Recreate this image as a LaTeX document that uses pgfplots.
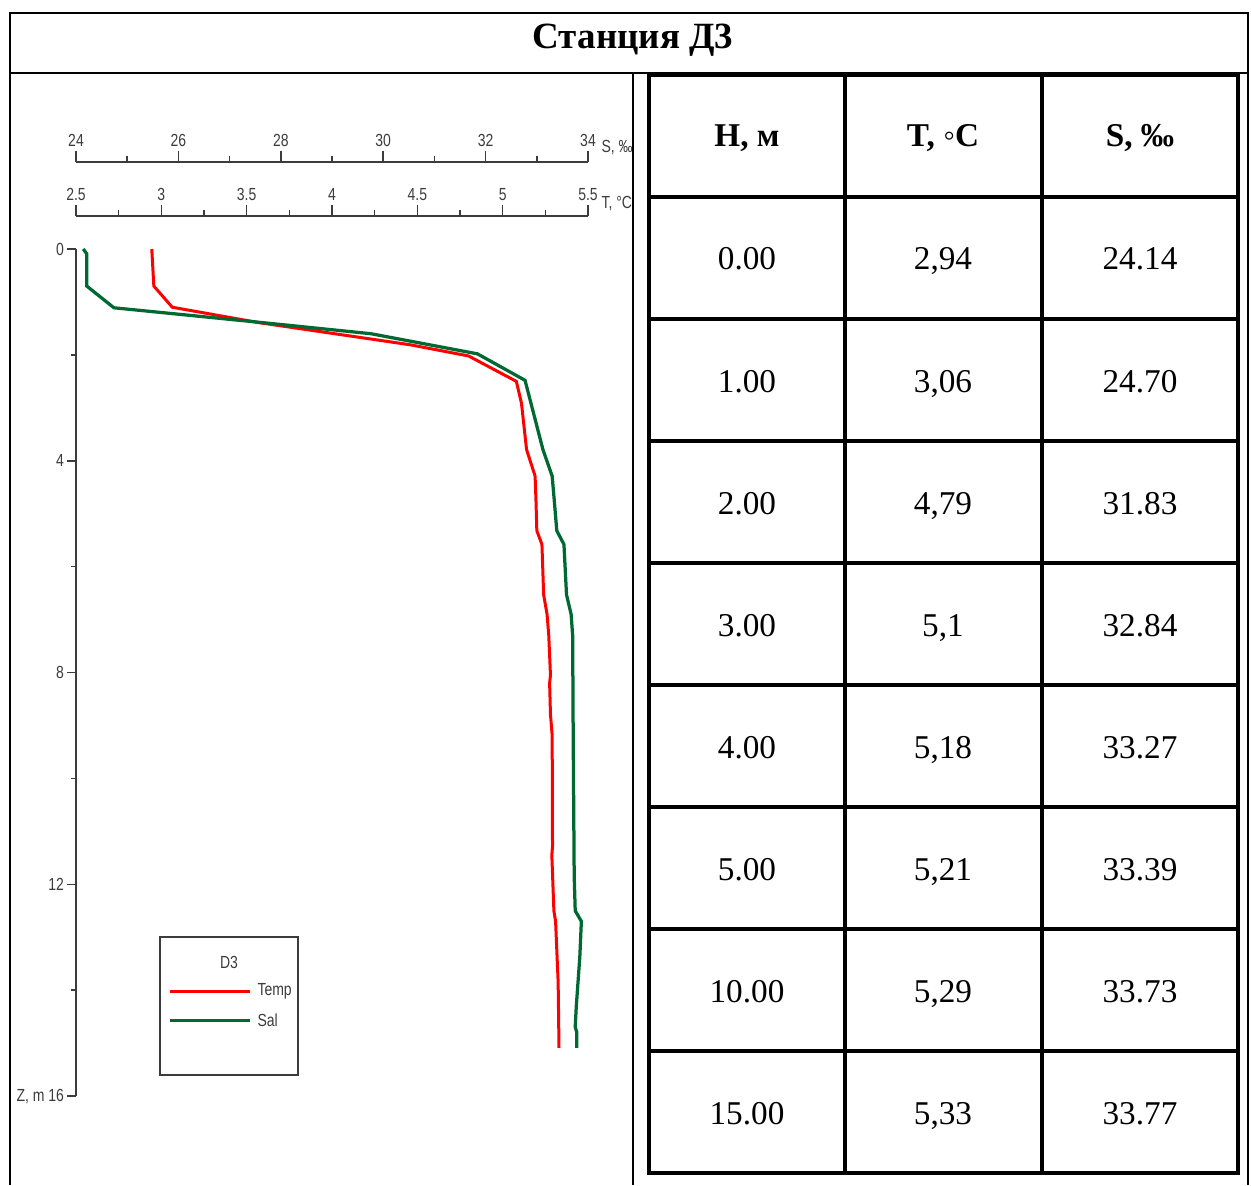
\documentclass[border=0pt]{standalone}
\usepackage{pgfplots}
\pgfplotsset{compat=1.18}
\usepackage{pgfplotstable}
\usepackage{fontspec}
\setmainfont{Liberation Serif}
\newfontfamily\chartfont[FakeStretch=0.8]{Liberation Sans}

\definecolor{salgreen}{RGB}{0,105,50}
\definecolor{axgray}{RGB}{60,60,60}

% depth (m) vs temperature
\pgfplotstableread{
d T
0.00 2.944
0.70 2.956
1.10 3.064
1.39 3.57
1.81 4.46
2.02 4.80
2.50 5.08
2.91 5.11
3.79 5.14
4.29 5.19
4.74 5.195
5.32 5.20
5.58 5.23
6.53 5.24
6.90 5.26
7.30 5.27
8.05 5.28
8.20 5.275
8.79 5.28
9.19 5.29
11.28 5.292
11.45 5.288
12.50 5.30
12.70 5.31
13.85 5.325
15.09 5.33
}\tempdata

% depth (m) vs salinity
\pgfplotstableread{
d S
0.00 24.14
0.09 24.21
0.70 24.21
1.11 24.74
1.39 27.64
1.60 29.76
1.98 31.84
2.48 32.77
3.79 33.12
4.29 33.30
4.74 33.34
5.32 33.39
5.58 33.53
6.53 33.58
6.90 33.67
7.30 33.70
9.10 33.71
11.83 33.73
12.50 33.75
12.70 33.87
13.37 33.84
14.32 33.77
14.70 33.75
14.79 33.78
15.09 33.78
}\saldata

\tikzset{cfont/.style={font=\chartfont\fontsize{7}{8}\selectfont, text=axgray}}
\pgfplotsset{
  prof/.style={
    scale only axis, width=204.8pt, height=338.8pt,
    at={(30.4pt,-99.6pt)}, anchor=north west,
    ymin=0, ymax=16, y dir=reverse, clip=false,
  },
  scalebar/.style={
    scale only axis, width=204.8pt, height=10pt, anchor=north west,
    ymin=0, ymax=1, axis x line*=top, axis y line=none,
    tick align=outside, major tick length=4.4pt, minor tick length=2.4pt,
    axis line style={axgray, line width=0.6pt},
    tick style={axgray, line width=0.6pt},
    /pgf/number format/assume math mode=true,
    ticklabel style={cfont, inner sep=1.5pt},
  },
}

\begin{document}
\begin{tikzpicture}

% temperature + depth axis
\begin{axis}[prof, xmin=2.5, xmax=5.5,
  axis x line=none, axis y line*=left,
  ytick={0,4,8,12,16}, yticklabels={0,4,8,12,{Z, m 16}},
  minor ytick={2,6,10,14},
  tick align=outside, major tick length=3.6pt, minor tick length=2pt,
  axis line style={axgray, line width=0.6pt},
  tick style={axgray, line width=0.6pt},
  ticklabel style={cfont, inner sep=1pt},
]
\addplot[red, line width=1.2pt] table[x=T, y=d] {\tempdata};
\end{axis}

% salinity
\begin{axis}[prof, xmin=24, xmax=34, hide axis]
\addplot[salgreen, line width=1.3pt] table[x=S, y=d] {\saldata};
\end{axis}

% top scales
\begin{axis}[scalebar, at={(30.4pt,-64.8pt)}, xmin=24, xmax=34,
  xtick={24,26,...,34}, minor xtick={25,27,...,33}]
\end{axis}
\begin{axis}[scalebar, at={(30.4pt,-86.4pt)}, xmin=2.5, xmax=5.5,
  xtick={2.5,3,...,5.5}, minor xtick={2.75,3.25,...,5.25}]
\end{axis}

\begin{scope}[x=0.4pt, y=-0.4pt]
  % scale names
  \node[anchor=west, inner sep=0pt, cfont] at (601,148) {S, ‰};
  \node[anchor=west, inner sep=0pt, cfont] at (601,204) {T, °C};

  % legend
  \draw[axgray, line width=0.5pt] (160,937) rectangle (298,1075);
  \node[cfont] at (229,962) {D3};
  \draw[red, line width=1.2pt] (170,991) -- (250,991);
  \node[anchor=west, inner sep=0pt, cfont] at (257,991) {Temp};
  \draw[salgreen, line width=1.2pt] (170,1020) -- (250,1020);
  \node[anchor=west, inner sep=0pt, cfont] at (257,1020) {Sal};

  % outer frame
  \draw[line width=1pt] (10,1185) -- (10,13) -- (1248,13) -- (1248,1185);
  \draw[line width=1pt] (10,73) -- (1248,73);
  \draw[line width=0.8pt] (633,73) -- (633,1185);
  \node[anchor=base, font=\fontsize{14.8}{17}\selectfont\bfseries] at (633,49) {Станция Д3};

  % data table
  \draw[line width=1.3pt] (649,75) rectangle (1238,1173);
  \draw[line width=1.3pt] (845,75) -- (845,1173) (1042,75) -- (1042,1173);
  \foreach \yy in {197,319,441,563,685,807,929,1051}
    \draw[line width=1.3pt] (649,\yy) -- (1238,\yy);

  \begin{scope}[every node/.style={anchor=base, font=\fontsize{13.3}{16}\selectfont}]
    \node[font=\fontsize{13.3}{16}\selectfont\bfseries] at (747,147) {Н, м};
    \node[font=\fontsize{13.3}{16}\selectfont\bfseries] at (943,147) {T, ◦C};
    \node[font=\fontsize{13.3}{16}\selectfont\bfseries] at (1140,147) {S, ‰};
    \foreach \h/\t/\s [count=\i from 0] in {0.00/{2,94}/24.14, 1.00/{3,06}/24.70,
        2.00/{4,79}/31.83, 3.00/{5,1}/32.84, 4.00/{5,18}/33.27, 5.00/{5,21}/33.39,
        10.00/{5,29}/33.73, 15.00/{5,33}/33.77} {
      \pgfmathsetmacro\yb{270+122*\i}
      \node at (747,\yb) {\h};
      \node at (943,\yb) {\t};
      \node at (1140,\yb) {\s};
    }
  \end{scope}

  \pgfresetboundingbox
  \path (0,0) rectangle (1251,1185);
\end{scope}
\end{tikzpicture}
\end{document}
